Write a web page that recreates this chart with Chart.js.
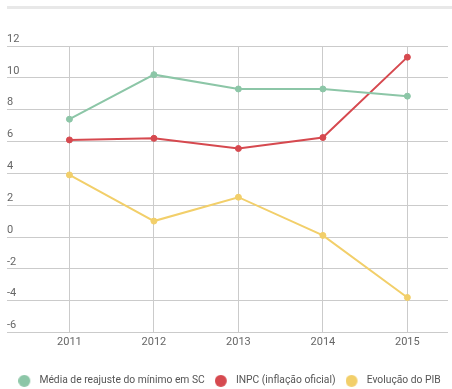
<!DOCTYPE html>
<html><head><meta charset="utf-8">
<script src="https://cdn.jsdelivr.net/npm/chart.js@4"></script>
<style>
html,body{margin:0;padding:0;background:#fff;overflow:hidden;}
#wrap{position:relative;width:452px;height:389px;}
#bar{position:absolute;left:7px;top:6px;width:445px;height:3px;background:#e8e8e8;}
canvas{position:absolute;left:0;top:0;}
</style></head>
<body><div id="wrap"><div id="bar"></div><canvas id="c" width="452" height="389"></canvas></div>
<script>
const years = [2011, 2012, 2013, 2014, 2015];
const reajusteSC = [7.4, 10.2, 9.3, 9.3, 8.85];
const inpc = [6.1, 6.2, 5.56, 6.25, 11.3];
const pib = [3.9, 1.0, 2.5, 0.1, -3.8];
const yTicks = [-6, -4, -2, 0, 2, 4, 6, 8, 10, 12];
const seriesNames = ['Média de reajuste do mínimo em SC', 'INPC (inflação oficial)', 'Evolução do PIB'];
const colors = ['#8cc6a7', '#d6494f', '#f2cf6a'];

function legendDot(color) {
  const c = document.createElement('canvas');
  c.width = 16; c.height = 12;
  const g = c.getContext('2d');
  g.fillStyle = color;
  g.beginPath(); g.arc(6, 6, 6, 0, Math.PI * 2); g.fill();
  return c;
}

const toPts = arr => arr.map((v, i) => ({x: years[i], y: v}));
const ds = [reajusteSC, inpc, pib].map((arr, i) => ({
  label: seriesNames[i],
  data: toPts(arr),
  borderColor: colors[i],
  backgroundColor: colors[i],
  pointBackgroundColor: colors[i],
  pointBorderColor: colors[i],
  pointStyle: 'circle',
  borderWidth: 2,
  pointRadius: 3,
  pointBorderWidth: 1,
  pointHoverRadius: 3,
  tension: 0
}));

Chart.defaults.font.family = 'Roboto';
Chart.defaults.font.size = 11;

new Chart(document.getElementById('c'), {
  type: 'line',
  data: {datasets: ds},
  options: {
    responsive: false,
    animation: false,
    layout: {padding: {left: 7, right: 0, top: 46, bottom: -7}},
    plugins: {
      tooltip: {enabled: false},
      legend: {
        position: 'bottom',
        labels: {
          usePointStyle: true,
          boxHeight: 10,
          pointStyleWidth: 16,
          padding: 10,
          color: '#555',
          font: {size: 10.3},
          generateLabels: chart => chart.data.datasets.map((d, i) => ({
            text: d.label,
            fillStyle: colors[i],
            strokeStyle: colors[i],
            lineWidth: 0,
            pointStyle: legendDot(colors[i]),
            fontColor: '#555',
            hidden: false,
            datasetIndex: i
          }))
        }
      }
    },
    scales: {
      x: {
        type: 'linear',
        min: 2010.261,
        max: 2015.481,
        border: {display: false},
        grid: {color: '#cbcbcb', drawTicks: false},
        ticks: {
          stepSize: 1,
          includeBounds: false,
          color: '#666',
          padding: 3,
          callback: v => String(v)
        },
        afterBuildTicks: s => { s.ticks = years.map(y => ({value: y})); },
        afterFit: s => { s.height += 14; }
      },
      y: {
        min: -6,
        max: 12,
        border: {display: false},
        grid: {color: '#cbcbcb', drawTicks: false},
        afterBuildTicks: s => { s.ticks = yTicks.map(v => ({value: v})); },
        ticks: {
          mirror: true,
          padding: 0,
          labelOffset: -7,
          color: '#666',
          callback: v => String(v)
        }
      }
    }
  }
});
</script>
</body></html>
